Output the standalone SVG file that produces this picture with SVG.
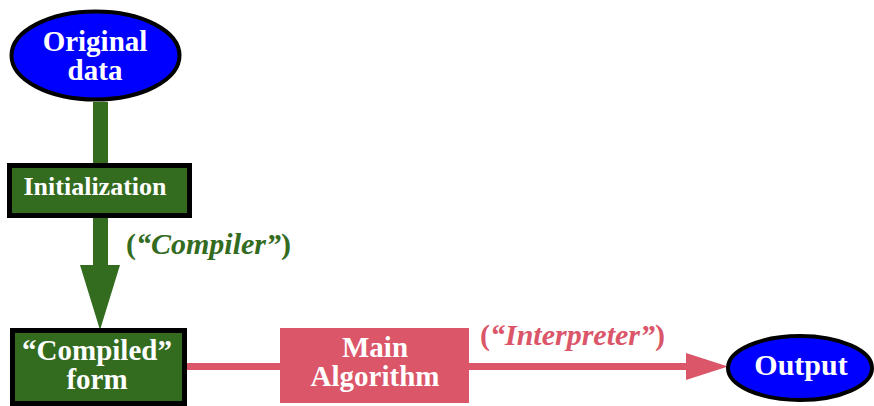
<svg xmlns="http://www.w3.org/2000/svg" width="874" height="406" viewBox="0 0 874 406">
<style>
text{font-family:"Liberation Serif","Times New Roman",serif}
.t{font-weight:bold;fill:#fff;text-anchor:middle;font-size:29px}
.ell{fill:#0000ff;stroke:#000;stroke-width:4}
.gbox{fill:#336b1f;stroke:#000;stroke-width:5}
.lbl{font-weight:bold;font-size:30px}
</style>
<rect width="874" height="406" fill="#fff"/>
<g id="connectors">
<rect x="93" y="102" width="15" height="63" fill="#336b1f"/>
<rect x="93" y="218" width="15" height="48" fill="#336b1f"/>
<polygon points="80,265 120,265 100,330" fill="#336b1f"/>
<text class="lbl" x="126" y="254" fill="#336b1f">(<tspan font-style="italic">“Compiler”</tspan>)</text>
<rect x="187" y="363" width="95" height="7" fill="#db5669"/>
<rect x="468" y="363" width="222" height="7" fill="#db5669"/>
<polygon points="686,353 728,366.5 686,380" fill="#db5669"/>
<text class="lbl" x="480" y="345" fill="#db5669">(<tspan font-style="italic">“Interpreter”</tspan>)</text>
</g>
<g id="original">
<ellipse class="ell" cx="95.5" cy="55.5" rx="84" ry="44"/>
<text class="t" x="95" y="51">Original</text>
<text class="t" x="95" y="80">data</text>
</g>
<g id="init">
<rect class="gbox" x="9.5" y="165.5" width="180" height="50"/>
<text class="t" style="font-size:26px" x="95" y="195">Initialization</text>
</g>
<g id="compiled">
<rect class="gbox" x="12.5" y="330.5" width="172" height="73"/>
<text class="t" x="97" y="360">“Compiled”</text>
<text class="t" x="97" y="389">form</text>
</g>
<g id="main">
<rect x="280" y="328" width="189" height="75" fill="#db5669"/>
<text class="t" x="375" y="357">Main</text>
<text class="t" x="375" y="386">Algorithm</text>
</g>
<g id="output">
<ellipse class="ell" cx="800" cy="368" rx="72" ry="32"/>
<text class="t" style="font-size:30px" x="801" y="375">Output</text>
</g>
</svg>
